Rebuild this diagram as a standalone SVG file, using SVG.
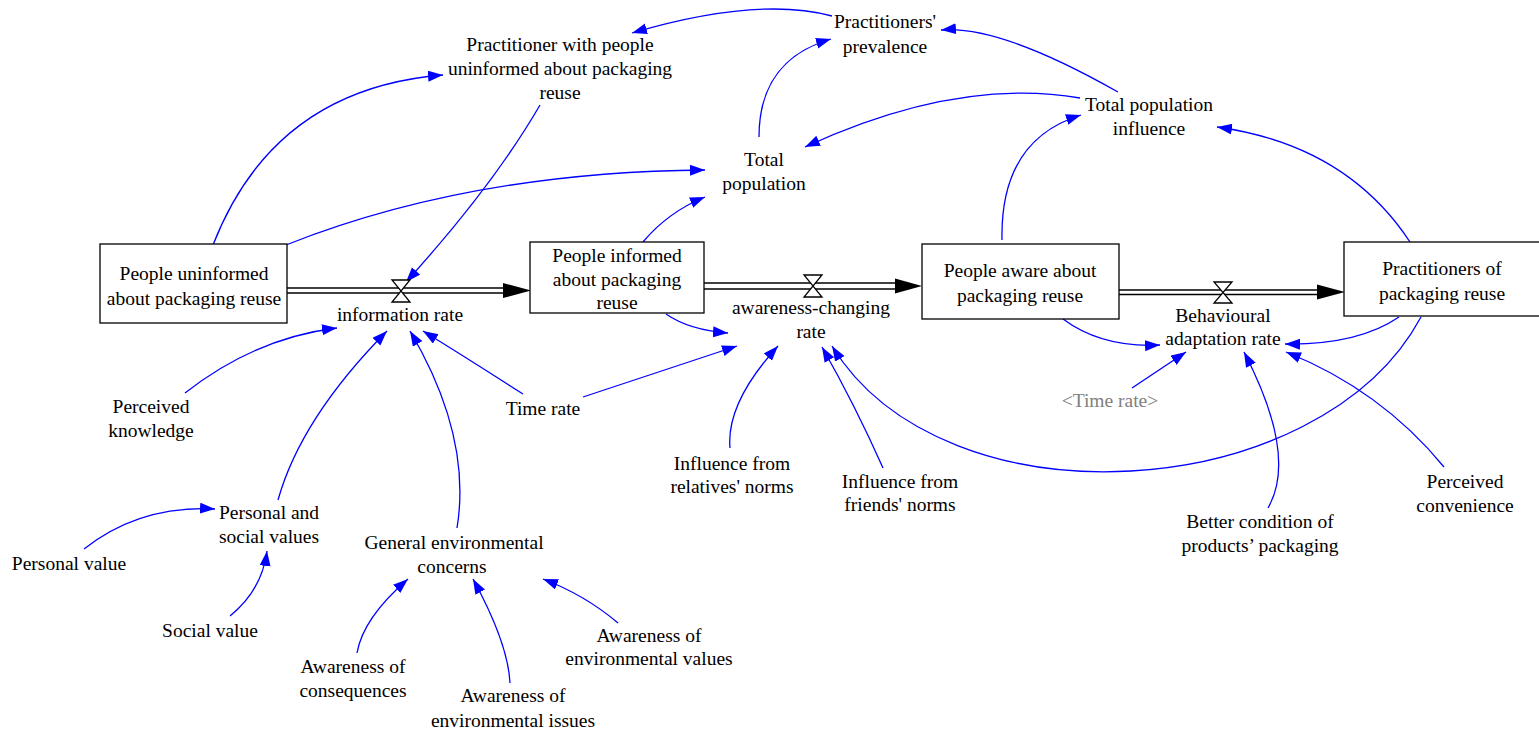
<svg xmlns="http://www.w3.org/2000/svg" width="1539" height="733" viewBox="0 0 1539 733">
<style>
.lbl text{font-family:"Liberation Serif","Times New Roman",serif;font-size:19.5px;fill:#000;text-anchor:middle}
.lbl text.gray{fill:#808080}
.stock{fill:#fff;stroke:#000;stroke-width:1.3}
.pipe{stroke:#000;stroke-width:1.5;fill:none}
.valve{fill:#fff;stroke:#000;stroke-width:1.3}
.head{fill:#000}
.link{fill:none;stroke:#0000FF;stroke-width:1.3;marker-end:url(#ah)}
</style>
<defs>
<marker id="ah" markerUnits="userSpaceOnUse" markerWidth="16" markerHeight="12" refX="15" refY="5.5" orient="auto">
<path d="M0,0 L15,5.5 L0,11 z" fill="#0000FF"/>
</marker>
</defs>
<rect width="1539" height="733" fill="#fff"/>

<g id="connectors">
<path class="link" d="M832,16 Q758,-4 632,33"/>
<path class="link" d="M759,137 Q759,60 831,39"/>
<path class="link" d="M1118,92 Q1000,25 941,30"/>
<path class="link" d="M1080,98 Q957,77 805,147"/>
<path class="link" d="M213,245 C250,150 320,85 443,75"/>
<path class="link" d="M286,245 Q470,172 705,170"/>
<path class="link" d="M540,105 Q493,186 406,282"/>
<path class="link" d="M643,242 Q668,212 705,197"/>
<path class="link" d="M1002,240 Q1000,140 1081,115"/>
<path class="link" d="M1410,242 Q1346,145 1217,127"/>
<path class="link" d="M185,393 Q255,338 337,328"/>
<path class="link" d="M523,394 Q470,360 423,331"/>
<path class="link" d="M583,397 L737,346"/>
<path class="link" d="M666,314 Q689,330 728,333"/>
<path class="link" d="M278,500 Q301,418 387,331"/>
<path class="link" d="M457,528 Q472,436 410,331"/>
<path class="link" d="M730,448 Q726,403 778,346"/>
<path class="link" d="M883,468 Q855,405 822,347"/>
<path class="link" d="M1421,317 C1320,505 945,530 832,346"/>
<path class="link" d="M1063,319 Q1102,348 1160,345"/>
<path class="link" d="M1399,317 Q1358,345 1285,344"/>
<path class="link" d="M1132,388 L1186,352"/>
<path class="link" d="M1268,508 Q1298,456 1244,352"/>
<path class="link" d="M1444,467 Q1381,390 1286,352"/>
<path class="link" d="M84,549 Q140,505 215,509"/>
<path class="link" d="M230,616 Q262,590 267,551"/>
<path class="link" d="M357,653 Q363,618 408,579"/>
<path class="link" d="M510,683 Q508,643 473,579"/>
<path class="link" d="M618,623 Q585,595 543,579"/>
</g>

<g class="lbl">
<g id="flow-information-rate">
<line class="pipe" x1="287" y1="288" x2="504" y2="288"/>
<line class="pipe" x1="287" y1="293" x2="504" y2="293"/>
<polygon class="head" points="503,283 531,290.5 503,298"/>
<polygon class="valve" points="392,280 410,280 392,302 410,302"/>
<text x="400" y="321">information rate</text>
</g>

<g id="flow-awareness-changing-rate">
<line class="pipe" x1="704" y1="283" x2="896" y2="283"/>
<line class="pipe" x1="704" y1="289" x2="896" y2="289"/>
<polygon class="head" points="895,278.5 922,286 895,293.5"/>
<polygon class="valve" points="804,275 822,275 804,297 822,297"/>
<text x="811" y="314">awareness-changing</text>
<text x="811" y="338">rate</text>
</g>

<g id="flow-behavioural-adaptation-rate">
<line class="pipe" x1="1119" y1="290" x2="1318" y2="290"/>
<line class="pipe" x1="1119" y1="294.5" x2="1318" y2="294.5"/>
<polygon class="head" points="1317,284.5 1345,292 1317,299.5"/>
<polygon class="valve" points="1214,282 1232,282 1214,303 1232,303"/>
<text x="1223" y="322">Behavioural</text>
<text x="1223" y="345">adaptation rate</text>
</g>

<g id="stock-uninformed">
<rect class="stock" x="100" y="244" width="187" height="79"/>
<text x="194" y="280">People uninformed</text>
<text x="194" y="305">about packaging reuse</text>
</g>
<g id="stock-informed">
<rect class="stock" x="530" y="242" width="174" height="71"/>
<text x="617" y="262">People informed</text>
<text x="617" y="286">about packaging</text>
<text x="617" y="309">reuse</text>
</g>
<g id="stock-aware">
<rect class="stock" x="922" y="244" width="197" height="75"/>
<text x="1020" y="277">People aware about</text>
<text x="1020" y="302">packaging reuse</text>
</g>
<g id="stock-practitioners">
<rect class="stock" x="1344" y="242" width="200" height="74"/>
<text x="1442" y="275">Practitioners of</text>
<text x="1442" y="300">packaging reuse</text>
</g>

<g id="practitioners-prevalence"><text x="885" y="28">Practitioners'</text><text x="885" y="53">prevalence</text></g>
<g id="practitioner-with-uninformed"><text x="560" y="51">Practitioner with people</text><text x="560" y="75">uninformed about packaging</text><text x="560" y="99">reuse</text></g>
<g id="total-population"><text x="764" y="166">Total</text><text x="764" y="190">population</text></g>
<g id="total-population-influence"><text x="1149" y="111">Total population</text><text x="1149" y="135">influence</text></g>
<g id="perceived-knowledge"><text x="151" y="413">Perceived</text><text x="151" y="437">knowledge</text></g>
<g id="time-rate"><text x="543" y="415">Time rate</text></g>
<g id="personal-social-values"><text x="269" y="519">Personal and</text><text x="269" y="543">social values</text></g>
<g id="personal-value"><text x="69" y="570">Personal value</text></g>
<g id="social-value"><text x="210" y="637">Social value</text></g>
<g id="general-environmental-concerns"><text x="454" y="549">General environmental</text><text x="452" y="573">concerns</text></g>
<g id="awareness-consequences"><text x="353" y="673">Awareness of</text><text x="353" y="697">consequences</text></g>
<g id="awareness-issues"><text x="513" y="702">Awareness of</text><text x="513" y="727">environmental issues</text></g>
<g id="awareness-values"><text x="649" y="642">Awareness of</text><text x="649" y="665">environmental values</text></g>
<g id="influence-relatives"><text x="732" y="470">Influence from</text><text x="732" y="493">relatives' norms</text></g>
<g id="influence-friends"><text x="900" y="488">Influence from</text><text x="900" y="511">friends' norms</text></g>
<g id="time-rate-shadow"><text class="gray" x="1110" y="407">&lt;Time rate&gt;</text></g>
<g id="better-condition"><text x="1260" y="528">Better condition of</text><text x="1260" y="552">products’ packaging</text></g>
<g id="perceived-convenience"><text x="1465" y="488">Perceived</text><text x="1465" y="512">convenience</text></g>
</g>
</svg>
